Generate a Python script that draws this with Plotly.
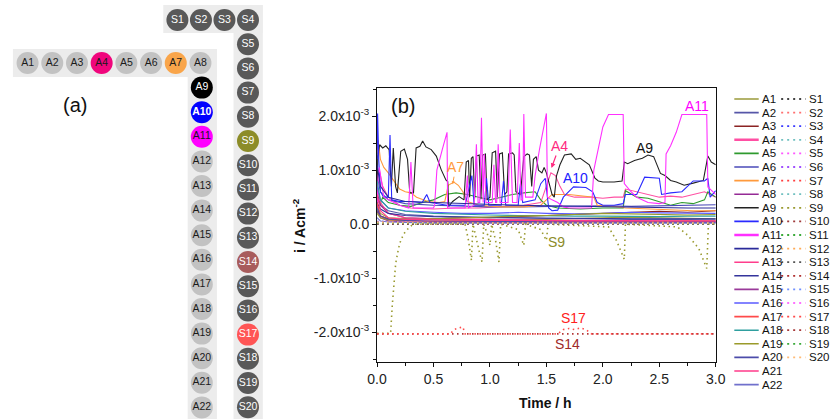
import plotly.graph_objects as go

W, H = 839, 419
FONT = "Arial, Liberation Sans, sans-serif"

# ---------------- panel (a): electrode map ----------------
a_row = ["A1", "A2", "A3", "A4", "A5", "A6", "A7", "A8"]
a_col = ["A9", "A10", "A11", "A12", "A13", "A14", "A15", "A16", "A17", "A18",
         "A19", "A20", "A21", "A22"]
s_row = ["S1", "S2", "S3", "S4"]
s_col = ["S5", "S6", "S7", "S8", "S9", "S10", "S11", "S12", "S13", "S14", "S15",
         "S16", "S17", "S18", "S19", "S20"]
highlight = {"A4": "#f0067c", "A7": "#f9a54a", "A9": "#000000", "A10": "#0000ff",
             "A11": "#ff00ff", "S9": "#8c8c28", "S14": "#a85c5c", "S17": "#ff5555"}

# ---------------- panel (b): current transients (x10^-3 A cm^-2) vs time (h) ----------------
A9 = [(0.0, 0.3), (0.006, 1.26), (0.023, 1.47), (0.05, 1.41), (0.078, 1.45), (0.107, 1.38),
      (0.127, 0.7), (0.144, 1.41), (0.164, 0.7), (0.18, 0.58), (0.21, 1.35), (0.242, 1.39),
      (0.27, 1.2), (0.29, 0.58), (0.323, 0.58), (0.346, 1.41), (0.38, 1.44), (0.404, 1.54),
      (0.433, 1.43), (0.48, 1.38), (0.525, 1.26), (0.568, 1.01), (0.61, 0.82), (0.626, 0.79),
      (0.635, 0.33), (0.67, 0.42), (0.727, 0.51), (0.77, 0.45), (0.79, 1.15), (0.81, 1.18),
      (0.82, 0.5), (0.835, 1.22), (0.85, 1.25), (0.865, 0.48), (0.88, 1.26), (0.905, 1.28),
      (0.92, 0.46), (0.935, 1.28), (0.96, 1.3), (0.975, 0.45), (1.0, 0.5), (1.02, 1.32),
      (1.05, 1.35), (1.065, 0.5), (1.085, 1.3), (1.11, 1.32), (1.13, 0.55), (1.15, 0.6),
      (1.165, 1.3), (1.2, 1.32), (1.215, 1.28), (1.23, 0.6), (1.27, 0.55), (1.3, 1.25),
      (1.33, 1.3), (1.35, 1.28), (1.37, 0.7), (1.385, 1.2), (1.41, 1.25), (1.43, 1.0),
      (1.46, 0.95), (1.48, 1.05), (1.5, 0.95), (1.55, 0.55), (1.57, 0.5), (1.59, 0.9),
      (1.62, 1.1), (1.66, 1.28), (1.72, 1.3), (1.76, 1.2), (1.8, 1.22), (1.85, 1.15),
      (1.88, 1.1), (1.93, 0.85), (1.96, 0.8), (2.0, 0.78), (2.1, 0.78), (2.17, 0.8),
      (2.19, 1.15), (2.22, 1.12), (2.28, 1.18), (2.35, 1.22), (2.4, 1.28), (2.45, 1.25),
      (2.51, 0.94), (2.55, 0.9), (2.6, 0.81), (2.65, 0.78), (2.72, 0.72), (2.8, 0.76),
      (2.89, 0.81), (2.93, 1.26), (2.96, 1.15), (3.0, 1.1)]
A11 = [(0.0, 0.3), (0.01, 0.9), (0.02, 1.05), (0.04, 0.8), (0.06, 0.5), (0.1, 0.45), (0.2, 0.35),
       (0.28, 0.3), (0.3, 1.15), (0.32, 0.3), (0.4, 0.3), (0.5, 0.3), (0.51, 0.35), (0.53, 1.0),
       (0.58, 1.4), (0.62, 1.7), (0.625, 0.3), (0.7, 0.3), (0.78, 0.3), (0.8, 0.9), (0.81, 0.3),
       (0.86, 0.35), (0.88, 1.48), (0.895, 0.4), (0.91, 0.4), (0.925, 1.97), (0.94, 0.4),
       (0.95, 1.3), (0.965, 0.4), (1.02, 0.4), (1.035, 1.1), (1.05, 0.4), (1.06, 0.4),
       (1.073, 1.48), (1.09, 0.4), (1.16, 0.4), (1.18, 1.75), (1.2, 0.4), (1.24, 0.4),
       (1.26, 1.5), (1.275, 0.45), (1.29, 0.45), (1.3, 2.04), (1.315, 0.5), (1.38, 0.5),
       (1.4, 0.9), (1.44, 1.4), (1.5, 2.05), (1.51, 0.5), (1.55, 0.45), (1.6, 0.4), (1.65, 0.32),
       (1.7, 0.3), (1.8, 0.3), (1.9, 0.3), (1.92, 1.0), (1.96, 1.4), (2.0, 1.8), (2.05, 2.03),
       (2.18, 2.03), (2.19, 0.75), (2.25, 0.6), (2.3, 0.5), (2.4, 0.4), (2.5, 0.38), (2.55, 0.4),
       (2.56, 1.3), (2.6, 1.45), (2.65, 1.7), (2.7, 2.03), (2.92, 2.03), (2.93, 0.69), (3.0, 0.55)]
A10 = [(0.0, 1.2), (0.005, 2.05), (0.015, 1.2), (0.03, 0.6), (0.06, 0.5), (0.1, 0.5), (0.115, 1.65),
       (0.13, 0.45), (0.2, 0.42), (0.3, 0.42), (0.4, 0.4), (0.44, 0.55), (0.47, 0.4), (0.55, 0.38),
       (0.62, 0.35), (0.7, 0.35), (0.78, 0.35), (0.84, 0.9), (0.86, 0.35), (0.95, 0.35),
       (0.97, 0.85), (0.99, 0.35), (1.1, 0.35), (1.12, 0.8), (1.14, 0.35), (1.25, 0.35),
       (1.27, 0.75), (1.29, 0.4), (1.4, 0.45), (1.45, 0.75), (1.49, 0.85), (1.52, 0.3),
       (1.55, 0.25), (1.6, 0.26), (1.65, 0.5), (1.74, 0.69), (1.85, 0.68), (1.91, 0.6),
       (1.95, 0.4), (2.0, 0.35), (2.1, 0.35), (2.18, 0.38), (2.2, 0.55), (2.3, 0.55),
       (2.37, 0.87), (2.5, 0.85), (2.52, 0.55), (2.6, 0.58), (2.7, 0.6), (2.8, 0.8),
       (2.9, 0.8), (2.93, 0.85), (2.95, 0.5), (3.0, 0.62)]
A4 = [(0.0, 0.9), (0.02, 1.0), (0.05, 0.7), (0.1, 0.5), (0.2, 0.35), (0.3, 0.3), (0.5, 0.28),
      (0.7, 0.3), (0.9, 0.3), (1.1, 0.32), (1.3, 0.35), (1.45, 0.4), (1.5, 0.7), (1.54, 0.95),
      (1.58, 0.9), (1.62, 0.7), (1.66, 0.55), (1.75, 0.5), (1.9, 0.5), (2.0, 0.48), (2.1, 0.5),
      (2.18, 0.5), (2.2, 0.65), (2.3, 0.6), (2.4, 0.55), (2.5, 0.5), (2.6, 0.52), (2.7, 0.5),
      (2.8, 0.55), (2.9, 0.6), (3.0, 0.5)]
A7 = [(0.0, 1.3), (0.01, 1.55), (0.03, 1.2), (0.06, 1.05), (0.1, 0.95), (0.15, 0.8), (0.2, 0.65),
      (0.25, 0.6), (0.3, 0.58), (0.35, 0.5), (0.45, 0.42), (0.55, 0.4), (0.6, 0.42), (0.63, 0.72),
      (0.68, 0.78), (0.72, 0.72), (0.76, 0.6), (0.8, 0.42), (0.9, 0.35), (1.1, 0.32), (1.3, 0.32),
      (1.45, 0.35), (1.55, 0.55), (1.7, 0.55), (1.85, 0.52), (1.92, 0.5), (1.95, 0.35),
      (2.1, 0.33), (2.2, 0.3), (2.4, 0.28), (2.6, 0.27), (2.8, 0.25), (3.0, 0.25)]
A5 = [(0.0, 0.2), (0.05, 0.5), (0.1, 0.4), (0.2, 0.35), (0.3, 0.33), (0.4, 0.4), (0.5, 0.45),
      (0.6, 0.55), (0.7, 0.58), (0.8, 0.55), (0.9, 0.5), (1.0, 0.45), (1.1, 0.5), (1.2, 0.55),
      (1.3, 0.58), (1.4, 0.6), (1.45, 0.45), (1.5, 0.35), (1.6, 0.3), (1.8, 0.28), (2.0, 0.3),
      (2.18, 0.3), (2.2, 0.62), (2.3, 0.5), (2.4, 0.48), (2.5, 0.42), (2.6, 0.35), (2.7, 0.4),
      (2.8, 0.38), (2.9, 0.45), (2.93, 0.6), (3.0, 0.5)]

t_low = [0.0, 0.03, 0.1, 0.25, 0.5, 0.75, 1.0, 1.25, 1.5, 1.75, 2.0, 2.25, 2.5, 2.75, 3.0]
A1 = [0.35, 0.2, 0.12, 0.1, 0.08, 0.07, 0.07, 0.08, 0.09, 0.1, 0.12, 0.13, 0.12, 0.11, 0.1]
A2 = [0.5, 0.35, 0.25, 0.18, 0.15, 0.13, 0.12, 0.12, 0.11, 0.1, 0.1, 0.09, 0.09, 0.08, 0.08]
A3 = [0.25, 0.15, 0.1, 0.08, 0.1, 0.12, 0.12, 0.14, 0.15, 0.18, 0.2, 0.22, 0.24, 0.22, 0.25]
A6 = [0.9, 0.6, 0.45, 0.38, 0.35, 0.33, 0.32, 0.32, 0.33, 0.33, 0.34, 0.33, 0.34, 0.35, 0.36]
A8 = [0.6, 0.35, 0.2, 0.12, 0.1, 0.08, 0.07, 0.06, 0.06, 0.05, 0.05, 0.05, 0.05, 0.05, 0.05]
A12 = [1.1, 0.7, 0.5, 0.42, 0.4, 0.38, 0.36, 0.35, 0.34, 0.33, 0.32, 0.32, 0.31, 0.3, 0.3]
A13 = [0.7, 0.4, 0.2, 0.12, 0.1, 0.09, 0.08, 0.08, 0.07, 0.07, 0.07, 0.06, 0.06, 0.06, 0.06]
A14 = [0.4, 0.28, 0.2, 0.16, 0.14, 0.13, 0.12, 0.12, 0.11, 0.11, 0.1, 0.1, 0.1, 0.1, 0.1]
A15 = [0.25, 0.12, 0.06, 0.04, 0.03, 0.03, 0.03, 0.03, 0.03, 0.03, 0.03, 0.03, 0.03, 0.03, 0.03]
A16 = [0.7, 0.45, 0.3, 0.25, 0.22, 0.2, 0.2, 0.22, 0.2, 0.19, 0.2, 0.22, 0.21, 0.2, 0.2]
A17 = [0.4, 0.15, 0.08, 0.06, 0.05, 0.05, 0.05, 0.05, 0.04, 0.04, 0.05, 0.05, 0.05, 0.06, 0.06]
A18 = [0.8, 0.45, 0.3, 0.24, 0.2, 0.18, 0.17, 0.16, 0.15, 0.15, 0.15, 0.14, 0.14, 0.15, 0.15]
A19 = [0.2, 0.12, 0.08, 0.08, 0.1, 0.12, 0.13, 0.15, 0.16, 0.18, 0.2, 0.19, 0.18, 0.17, 0.18]
A20 = [0.3, 0.15, 0.09, 0.07, 0.06, 0.05, 0.05, 0.05, 0.05, 0.04, 0.04, 0.04, 0.04, 0.04, 0.04]
A21 = [0.55, 0.25, 0.12, 0.09, 0.08, 0.07, 0.07, 0.07, 0.06, 0.06, 0.06, 0.06, 0.06, 0.06, 0.06]
A22 = [0.12, 0.06, 0.04, 0.03, 0.02, 0.02, 0.02, 0.02, 0.02, 0.02, 0.02, 0.02, 0.02, 0.02, 0.02]

S9 = [(0.0, -2.02), (0.12, -2.02), (0.135, -1.5), (0.15, -1.05), (0.165, -0.73), (0.19, -0.45),
      (0.21, -0.3), (0.24, -0.17), (0.28, -0.07), (0.32, 0.0), (0.78, 0.0), (0.81, -0.3),
      (0.836, -0.67), (0.85, 0.0), (0.88, -0.3), (0.91, -0.55), (0.93, -0.7), (0.945, 0.0),
      (0.98, -0.2), (1.0, -0.39), (1.015, 0.0), (1.05, -0.3), (1.08, -0.7), (1.095, 0.0),
      (1.25, -0.1), (1.3, -0.39), (1.315, 0.0), (1.45, -0.1), (1.5, -0.3), (1.515, 0.0),
      (2.05, -0.05), (2.12, -0.3), (2.19, -0.65), (2.2, 0.0), (2.66, -0.05), (2.75, -0.2),
      (2.85, -0.45), (2.92, -0.82), (2.935, 0.0), (3.0, 0.0)]
S14 = [(0.0, -2.03), (1.0, -2.03), (2.0, -2.03), (3.0, -2.03)]
S17 = [(0.0, -2.03), (0.65, -2.03), (0.68, -1.95), (0.72, -1.92), (0.76, -1.9), (0.78, -2.03),
       (1.6, -2.03), (1.65, -1.95), (1.7, -1.93), (1.75, -1.95), (1.8, -1.92), (1.85, -1.95),
       (1.9, -2.03), (3.0, -2.03)]
t_s = [0.0, 0.5, 1.0, 1.5, 2.0, 2.5, 3.0]
S1 = [0.0, 0.0, 0.0, 0.0, 0.0, 0.0, 0.0]
S2 = [0.03, 0.02, 0.02, 0.01, 0.02, 0.02, 0.01]
S3 = [0.05, 0.03, 0.02, 0.02, 0.02, 0.03, 0.02]
S4 = [0.02, 0.01, 0.01, 0.01, 0.01, 0.01, 0.01]
S5 = [0.04, 0.02, 0.01, 0.02, 0.01, 0.02, 0.02]
S6 = [0.01, 0.01, 0.0, 0.01, 0.0, 0.01, 0.0]
S7 = [0.02, 0.01, 0.02, 0.01, 0.02, 0.01, 0.01]
S8 = [0.01, 0.0, 0.01, 0.0, 0.01, 0.0, 0.01]
S10 = [0.03, 0.02, 0.01, 0.02, 0.01, 0.02, 0.01]
S11 = [0.02, 0.01, 0.01, 0.01, 0.01, 0.01, 0.01]
S12 = [0.04, 0.03, 0.02, 0.03, 0.02, 0.03, 0.02]
S13 = [0.0, 0.0, 0.0, 0.0, 0.0, 0.0, 0.0]
S15 = [0.03, 0.02, 0.02, 0.02, 0.02, 0.02, 0.02]
S16 = [0.02, 0.01, 0.01, 0.01, 0.01, 0.01, 0.01]
S18 = [0.01, 0.01, 0.01, 0.01, 0.01, 0.01, 0.01]
S19 = [0.02, 0.02, 0.01, 0.02, 0.01, 0.02, 0.01]
S20 = [0.03, 0.02, 0.02, 0.02, 0.02, 0.02, 0.02]

A_colors = ["#9a9a3a", "#5656a8", "#8b2323", "#ff4fa3", "#2e9a2e", "#4a4ab8", "#ff9a3c",
            "#952a95", "#222222", "#2a2aff", "#ff30ff", "#2a2a9a", "#ff3d8c", "#34349c",
            "#9a3a9a", "#5a5aff", "#ff4a4a", "#2f9f9f", "#9a9a2a", "#4c4caa", "#ff3a8a", "#7070cc"]
S_colors = ["#444444", "#ff7070", "#3a3aff", "#70c0c0", "#ff55ff", "#a050ff", "#ff4040",
            "#70c0c0", "#9a9a30", "#a03a3a", "#3aaa3a", "#ffaa55", "#555555", "#b03030",
            "#7090ff", "#ff70ff", "#ff4a4a", "#a83a3a", "#3aaa3a", "#ffbb77"]

y_tickvals = [-2, -1, 0, 1, 2]
y_ticktext = ["-2.0x10<sup>-3</sup>", "-1.0x10<sup>-3</sup>", "0.0",
              "1.0x10<sup>-3</sup>", "2.0x10<sup>-3</sup>"]
x_tickvals = [0, 0.5, 1.0, 1.5, 2.0, 2.5, 3.0]
x_ticktext = ["0.0", "0.5", "1.0", "1.5", "2.0", "2.5", "3.0"]


def pairs(p):
    return [a for a, _ in p], [b for _, b in p]


a_series = {
    "A1": (t_low, A1), "A2": (t_low, A2), "A3": (t_low, A3), "A4": pairs(A4),
    "A5": pairs(A5), "A6": (t_low, A6), "A7": pairs(A7), "A8": (t_low, A8),
    "A9": pairs(A9), "A10": pairs(A10), "A11": pairs(A11), "A12": (t_low, A12),
    "A13": (t_low, A13), "A14": (t_low, A14), "A15": (t_low, A15), "A16": (t_low, A16),
    "A17": (t_low, A17), "A18": (t_low, A18), "A19": (t_low, A19), "A20": (t_low, A20),
    "A21": (t_low, A21), "A22": (t_low, A22),
}
s_series = {
    "S1": (t_s, S1), "S2": (t_s, S2), "S3": (t_s, S3), "S4": (t_s, S4), "S5": (t_s, S5),
    "S6": (t_s, S6), "S7": (t_s, S7), "S8": (t_s, S8), "S9": pairs(S9), "S10": (t_s, S10),
    "S11": (t_s, S11), "S12": (t_s, S12), "S13": (t_s, S13), "S14": pairs(S14),
    "S15": (t_s, S15), "S16": (t_s, S16), "S17": pairs(S17), "S18": (t_s, S18),
    "S19": (t_s, S19), "S20": (t_s, S20),
}

fig = go.Figure()

# ---- main plot traces ----
for name, col in zip(a_series, A_colors):
    t, v = a_series[name]
    fig.add_trace(go.Scatter(x=t, y=v, mode="lines", name=name, showlegend=False,
                             line=dict(color=col, width=1.1), xaxis="x", yaxis="y"))
for name, col in zip(s_series, S_colors):
    t, v = s_series[name]
    fig.add_trace(go.Scatter(x=t, y=v, mode="lines", name=name, showlegend=False,
                             line=dict(color=col, width=1.6, dash="1.5px,3.5px"),
                             xaxis="x", yaxis="y"))

# ---- custom legend (two columns) ----
row0, row_h = 99, 13.6
leg_ann = []
for k, (name, col) in enumerate(zip(a_series, A_colors)):
    y = row0 + row_h * k
    w = 2.6 if name in ("A4", "A11") else 1.6
    fig.add_trace(go.Scatter(x=[742, 767], y=[y, y], mode="lines", showlegend=False,
                             line=dict(color=col, width=w), xaxis="x3", yaxis="y3"))
    leg_ann.append(dict(x=768.5, y=y, xref="x3", yref="y3", text=name, showarrow=False,
                        xanchor="left", yanchor="middle", font=dict(size=11.5, color="#111")))
for k, (name, col) in enumerate(zip(s_series, S_colors)):
    y = row0 + row_h * k
    fig.add_trace(go.Scatter(x=[790, 815], y=[y, y], mode="lines", showlegend=False,
                             line=dict(color=col, width=1.8, dash="2px,4px"),
                             xaxis="x3", yaxis="y3"))
    leg_ann.append(dict(x=816.5, y=y, xref="x3", yref="y3", text=name, showarrow=False,
                        xanchor="left", yanchor="middle", font=dict(size=11.5, color="#111")))

# ---- panel (a) circles ----
names, xs, ys = [], [], []
for k, n in enumerate(a_row):
    names.append(n); xs.append(18 + 25.3 * k); ys.append(63)
for k, n in enumerate(a_col):
    names.append(n); xs.append(196.5); ys.append(63 + 24.6 * (k + 1))
for k, n in enumerate(s_row):
    names.append(n); xs.append(171.5 + 24.1 * k); ys.append(20)
for k, n in enumerate(s_col):
    names.append(n); xs.append(243.8); ys.append(20 + 24.2 * (k + 1))
fills, tcols, texts = [], [], []
for n in names:
    base = "#c2c2c2" if n.startswith("A") else "#595959"
    fills.append(highlight.get(n, base))
    if n in ("A9", "A10") or n.startswith("S"):
        tcols.append("#ffffff")
    else:
        tcols.append("#1a1a1a")
    texts.append("<b>%s</b>" % n if n == "A10" else n)
fig.add_trace(go.Scatter(x=xs, y=ys, mode="markers+text", text=texts, showlegend=False,
                         textposition="middle center",
                         marker=dict(size=22, color=fills, line=dict(width=0)),
                         textfont=dict(size=10.5, color=tcols, family=FONT),
                         xaxis="x2", yaxis="y2"))

strip = "#ececec"
shapes = [
    dict(type="rect", xref="x2", yref="y2", x0=157, x1=259, y0=5, y1=33),
    dict(type="rect", xref="x2", yref="y2", x0=229, x1=259, y0=5, y1=419),
    dict(type="rect", xref="x2", yref="y2", x0=3, x1=212, y0=49, y1=77),
    dict(type="rect", xref="x2", yref="y2", x0=182, x1=212, y0=49, y1=419),
]
for s in shapes:
    s.update(fillcolor=strip, line=dict(width=0), layer="below")

C = dict(xanchor="center", yanchor="middle", showarrow=False)
ann = [
    dict(x=67 / W, y=1 - 105 / H, xref="paper", yref="paper", text="(a)",
         font=dict(size=20, color="#111"), **C),
    dict(x=403 / W, y=1 - 106 / H, xref="paper", yref="paper", text="(b)",
         font=dict(size=20, color="#111"), **C),
    dict(x=549 / W, y=1 - 403 / H, xref="paper", yref="paper", text="<b>Time / h</b>",
         font=dict(size=14, color="#111"), **C),
    dict(x=296 / W, y=1 - 225 / H, xref="paper", yref="paper", text="<b>i / Acm<sup>-2</sup></b>",
         textangle=-90, font=dict(size=14, color="#111"), **C),
    dict(x=2.83, y=2.19, xref="x", yref="y", text="A11",
         font=dict(size=14, color="#ff00ff"), **C),
    dict(x=2.37, y=1.41, xref="x", yref="y", text="A9",
         font=dict(size=14, color="#111"), **C),
    dict(x=1.76, y=0.85, xref="x", yref="y", text="A10",
         font=dict(size=14, color="#2020ff"), **C),
    dict(x=1.545, y=1.04, xref="x", yref="y", text="A4", showarrow=True, ax=8, ay=-22,
         arrowhead=2, arrowsize=0.8, arrowwidth=1.2, arrowcolor="#ff2a7f",
         font=dict(size=14, color="#ff2a7f")),
    dict(x=0.67, y=0.74, xref="x", yref="y", text="A7", showarrow=True, ax=3, ay=-17,
         arrowhead=2, arrowsize=0.6, arrowwidth=1, arrowcolor="#ff9a3c",
         font=dict(size=14, color="#ff9a3c")),
    dict(x=1.59, y=-0.33, xref="x", yref="y", text="S9",
         font=dict(size=14, color="#8c8c28"), **C),
    dict(x=1.74, y=-1.74, xref="x", yref="y", text="S17",
         font=dict(size=14, color="#ff2020"), **C),
    dict(x=1.69, y=-2.22, xref="x", yref="y", text="S14",
         font=dict(size=14, color="#a02a2a"), **C),
]

axis_common = dict(showgrid=False, zeroline=False, showline=True, linecolor="#111",
                   linewidth=1, mirror=True, ticks="outside", ticklen=4, tickwidth=1,
                   tickcolor="#111", tickfont=dict(size=14, color="#222"))

fig.update_layout(
    width=W, height=H, margin=dict(l=0, r=0, t=0, b=0),
    paper_bgcolor="white", plot_bgcolor="white",
    font=dict(family=FONT, color="#111"),
    hovermode=False, showlegend=False,
    xaxis=dict(domain=[376 / W, 723 / W], range=[0, 3], tickvals=x_tickvals,
               ticktext=x_ticktext, anchor="y",
               minor=dict(ticks="outside", ticklen=3, dtick=0.25, tick0=0, tickcolor="#111"),
               **axis_common),
    yaxis=dict(domain=[57 / H, 331 / H], range=[-2.55, 2.52], tickvals=y_tickvals,
               ticktext=y_ticktext, anchor="x",
               minor=dict(ticks="outside", ticklen=3, dtick=0.5, tick0=0, tickcolor="#111"),
               **axis_common),
    xaxis2=dict(domain=[0, 352 / W], range=[0, 352], visible=False, anchor="y2"),
    yaxis2=dict(domain=[0, 1], range=[419, 0], visible=False, anchor="x2"),
    xaxis3=dict(domain=[730 / W, 1], range=[730, 839], visible=False, anchor="y3"),
    yaxis3=dict(domain=[0, 1], range=[419, 0], visible=False, anchor="x3"),
    shapes=shapes,
    annotations=ann + leg_ann,
)

fig.write_html("out.html")
